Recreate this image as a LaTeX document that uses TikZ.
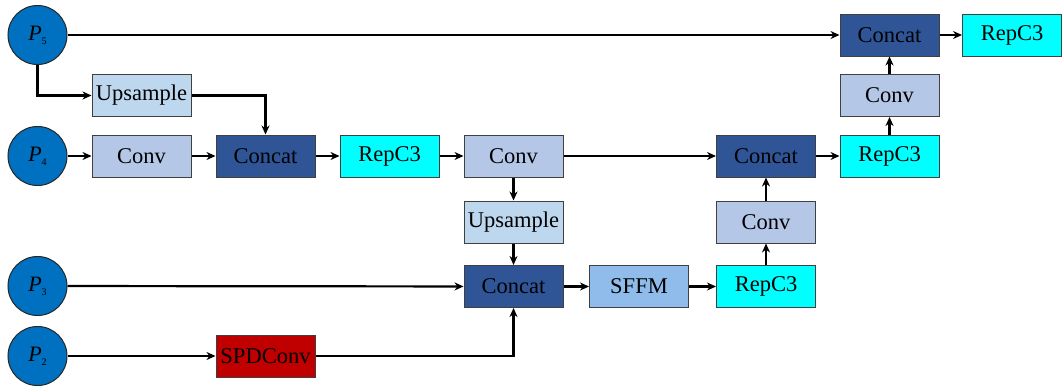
\documentclass[tikz,border=0pt]{standalone}
\usepackage{fontspec}
\setmainfont{Liberation Serif}
\usetikzlibrary{arrows.meta}
\definecolor{cblue}{HTML}{0070C0}
\definecolor{cconcat}{HTML}{2F5597}
\definecolor{cconv}{HTML}{B4C7E7}
\definecolor{cup}{HTML}{BDD7EE}
\definecolor{crep}{HTML}{00FFFF}
\definecolor{csffm}{HTML}{8FBCEB}
\definecolor{cspd}{HTML}{C00000}
\tikzset{
  blk/.style={draw=black!75, line width=1pt, minimum width=99pt, minimum height=42pt, inner sep=0pt, font=\fontsize{22.5}{25}\selectfont},
  convbox/.style={blk, fill=cconv},
  catbox/.style={blk, fill=cconcat},
  upbox/.style={blk, fill=cup},
  repbox/.style={blk, fill=crep},
  sffmbox/.style={blk, fill=csffm},
  spdbox/.style={blk, fill=cspd},
  pin/.style={circle, draw=black!85, line width=1pt, fill=cblue, minimum size=59pt, inner sep=0pt, font=\fontsize{22}{24}\selectfont},
  conn/.style={line width=2.2pt, -{Stealth[length=9pt,width=8pt]}},
}
\newcommand{\Pl}[1]{\textit{P}\raisebox{-4pt}{\fontsize{10}{12}\selectfont #1}}
\begin{document}
\begin{tikzpicture}[x=1pt,y=-1pt]
\useasboundingbox (0,0) rectangle (1062,388);
% inputs
\node[pin] (p5) at (37.5,35) {\Pl{5}};
\node[pin] (p4) at (37.5,156) {\Pl{4}};
\node[pin] (p3) at (37.5,286) {\Pl{3}};
\node[pin] (p2) at (37.5,356) {\Pl{2}};
% blocks
\node[upbox] (up1) at (141.5,95.5) {Upsample};
\node[convbox] (cv1) at (141.5,156) {Conv};
\node[catbox] (ct1) at (265.5,156) {Concat};
\node[repbox] (rp1) at (389.5,156) {RepC3};
\node[convbox] (cv2) at (513.5,156) {Conv};
\node[upbox] (up2) at (513.5,222) {Upsample};
\node[catbox] (ct2) at (513.5,286.5) {Concat};
\node[spdbox] (spd) at (265.5,356) {SPDConv};
\node[sffmbox] (sf) at (639,286.5) {SFFM};
\node[repbox] (rp2) at (766,286.5) {RepC3};
\node[convbox] (cv3) at (766,222) {Conv};
\node[catbox] (ct3) at (766,156) {Concat};
\node[repbox] (rp3) at (889.5,156) {RepC3};
\node[convbox] (cv4) at (889.5,95.5) {Conv};
\node[catbox] (ct4) at (889.5,35) {Concat};
\node[repbox] (rp4) at (1012,35) {RepC3};
% connectors
\draw[conn] (p5) -- (ct4);
\draw[conn] (p5.south) |- (up1.west);
\draw[conn] (up1.east) -| (ct1.north);
\draw[conn] (p4) -- (cv1);
\draw[conn] (cv1) -- (ct1);
\draw[conn] (ct1) -- (rp1);
\draw[conn] (rp1) -- (cv2);
\draw[conn] (cv2) -- (ct3);
\draw[conn] (cv2) -- (up2);
\draw[conn] (up2) -- (ct2);
\draw[conn] (p3) -- (ct2);
\draw[conn] (p2) -- (spd);
\draw[conn] (spd.east) -| (ct2.south);
\draw[conn] (ct2) -- (sf);
\draw[conn] (sf) -- (rp2);
\draw[conn] (rp2) -- (cv3);
\draw[conn] (cv3) -- (ct3);
\draw[conn] (ct3) -- (rp3);
\draw[conn] (rp3) -- (cv4);
\draw[conn] (cv4) -- (ct4);
\draw[conn] (ct4) -- (rp4);
\end{tikzpicture}
\end{document}
